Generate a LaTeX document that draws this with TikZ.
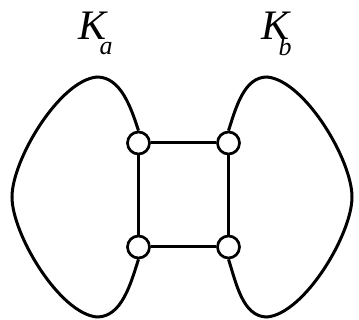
\documentclass[tikz,border=0pt]{standalone}
\usepackage{fontspec}
\setmainfont{Liberation Serif}
\begin{document}
\begin{tikzpicture}[x=1pt,y=1pt,line width=3pt,
  vtx/.style={circle,draw,minimum size=22pt,inner sep=0pt,line width=2.7pt,fill=white},
  lbl/.style={inner sep=0pt,anchor=base west,font=\fontsize{42}{42}\selectfont\itshape}]
\useasboundingbox (0,0) rectangle (359,320);
\coordinate (lt) at (97,243);
\coordinate (lm) at (12,123);
\coordinate (lb) at (97,3);
\coordinate (rt) at (267,243);
\coordinate (rm) at (352,123);
\coordinate (rb) at (267,3);
\node[vtx] (tl) at (138.5,177) {};
\node[vtx] (tr) at (228.5,177) {};
\node[vtx] (bl) at (138.5,73) {};
\node[vtx] (br) at (228.5,73) {};
\draw (tl) -- (tr) -- (br) -- (bl) -- (tl);
\draw (tl.north) to[out=108,in=0,looseness=0.9] (lt) to[out=185,in=90,looseness=0.65] (lm)
  to[out=270,in=175,looseness=0.65] (lb) to[out=0,in=252,looseness=0.9] (bl.south);
\draw (tr.north) to[out=72,in=180,looseness=0.9] (rt) to[out=355,in=90,looseness=0.65] (rm)
  to[out=270,in=5,looseness=0.65] (rb) to[out=180,in=288,looseness=0.9] (br.south);
\node[lbl] (ka) at (77,280) {K\kern-7pt\raisebox{-15pt}{\fontsize{26}{26}\selectfont a}};
\node[lbl] (kb) at (260,280) {K\kern-11pt\raisebox{-16pt}{\fontsize{26}{26}\selectfont b}};
\end{tikzpicture}
\end{document}
